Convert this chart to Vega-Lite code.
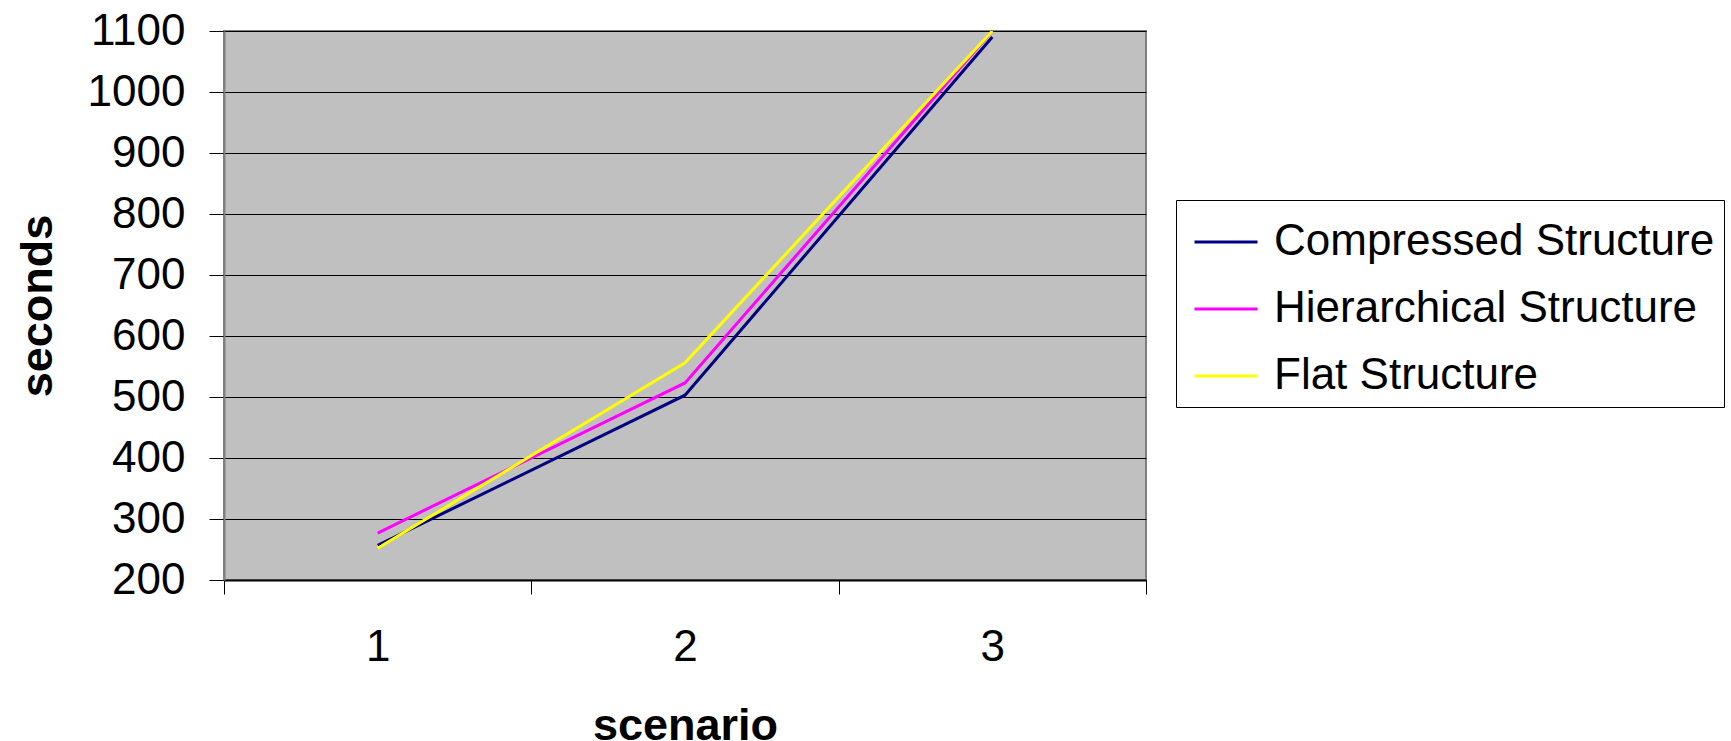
{
  "$schema": "https://vega.github.io/schema/vega-lite/v6.json",
  "autosize": {"type": "none"},
  "width": 922,
  "height": 549,
  "padding": {"left": 224, "top": 31, "right": 585, "bottom": 161},
  "background": "#FFFFFF",
  "config": {
    "font": "Liberation Sans",
    "view": {"fill": "#C0C0C0", "stroke": "#808080", "strokeWidth": 2}
  },
  "data": {
    "values": [
      {"scenario": "1", "structure": "Compressed Structure", "seconds": 257},
      {"scenario": "2", "structure": "Compressed Structure", "seconds": 503},
      {"scenario": "3", "structure": "Compressed Structure", "seconds": 1090},
      {"scenario": "1", "structure": "Hierarchical Structure", "seconds": 277},
      {"scenario": "2", "structure": "Hierarchical Structure", "seconds": 523},
      {"scenario": "3", "structure": "Hierarchical Structure", "seconds": 1100},
      {"scenario": "1", "structure": "Flat Structure", "seconds": 252},
      {"scenario": "2", "structure": "Flat Structure", "seconds": 556},
      {"scenario": "3", "structure": "Flat Structure", "seconds": 1100}
    ]
  },
  "mark": {"type": "line", "strokeWidth": 3, "clip": true},
  "encoding": {
    "x": {
      "field": "scenario",
      "type": "ordinal",
      "bandPosition": 0.5,
      "scale": {"type": "band", "paddingInner": 0, "paddingOuter": 0},
      "axis": {
        "title": "scenario",
        "titleFontSize": 45,
        "titleFontWeight": "bold",
        "titleColor": "#000000",
        "titlePadding": 34,
        "labelAngle": 0,
        "labelFontSize": 44,
        "labelColor": "#000000",
        "labelPadding": 31,
        "tickBand": "extent",
        "tickSize": 14,
        "tickColor": "#000000",
        "domainColor": "#000000",
        "domainWidth": 2,
        "grid": false
      }
    },
    "y": {
      "field": "seconds",
      "type": "quantitative",
      "scale": {"domain": [200, 1100], "nice": false, "zero": false},
      "axis": {
        "title": "seconds",
        "titleFontSize": 45,
        "titleFontWeight": "bold",
        "titleColor": "#000000",
        "titlePadding": 27,
        "format": "d",
        "values": [200, 300, 400, 500, 600, 700, 800, 900, 1000, 1100],
        "labelFontSize": 44,
        "labelColor": "#000000",
        "labelPadding": 24,
        "tickSize": 15,
        "tickColor": "#000000",
        "domainColor": "#808080",
        "domainWidth": 2,
        "grid": true,
        "gridColor": "#000000",
        "gridWidth": 1,
        "gridOpacity": 1
      }
    },
    "color": {
      "field": "structure",
      "type": "nominal",
      "sort": ["Compressed Structure", "Hierarchical Structure", "Flat Structure"],
      "scale": {
        "domain": ["Compressed Structure", "Hierarchical Structure", "Flat Structure"],
        "range": ["#000080", "#FF00FF", "#FFFF00"]
      },
      "legend": {
        "title": null,
        "orient": "none",
        "legendX": 952,
        "legendY": 169,
        "padding": 9,
        "strokeColor": "#000000",
        "fillColor": "#FFFFFF",
        "symbolType": "stroke",
        "symbolSize": 3969,
        "symbolStrokeWidth": 3,
        "symbolOffset": 8,
        "labelFontSize": 44,
        "labelColor": "#000000",
        "labelOffset": 15,
        "labelLimit": 0,
        "rowPadding": 12
      }
    },
    "order": {"field": "scenario"}
  }
}
